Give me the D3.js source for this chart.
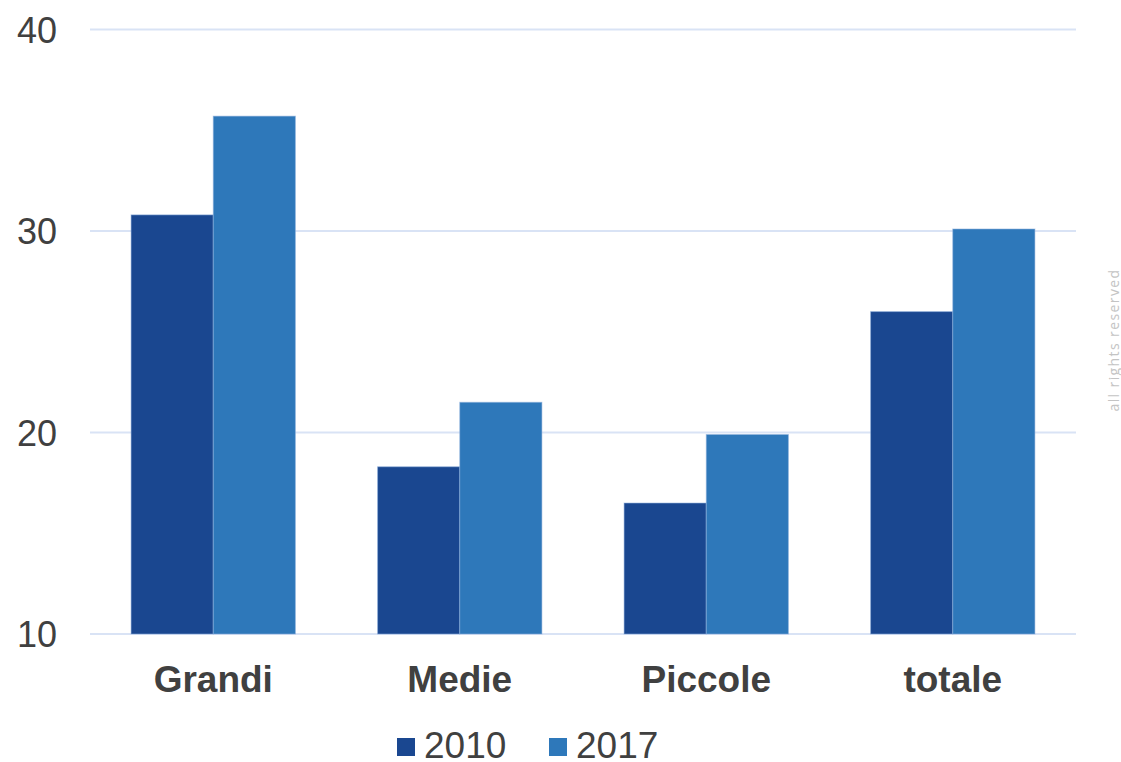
<!DOCTYPE html>
<html>
<head>
<meta charset="utf-8">
<script src="https://cdn.jsdelivr.net/npm/d3@7"></script>
<style>
  html, body { margin: 0; padding: 0; background: #fff; }
  svg { display: block; }
</style>
</head>
<body>
<svg id="chart" width="1121" height="762"></svg>
<script>
// Categories, series and values
const categories = ["Grandi", "Medie", "Piccole", "totale"];
const seriesNames = ["2010", "2017"];
const values2010 = [30.8, 18.3, 16.5, 26.0];
const values2017 = [35.7, 21.5, 19.9, 30.1];
const yTicks = [10, 20, 30, 40];
const seriesColors = ["#1a4790", "#2e78ba"];

const seriesValues = [values2010, values2017];
const rows = categories.map((c, i) => ({
  category: c,
  bars: seriesNames.map((s, j) => ({ series: s, value: seriesValues[j][i], color: seriesColors[j] }))
}));

const svg = d3.select("#chart");
const font = "'Liberation Sans', Arial, Helvetica, sans-serif";

const plot = { left: 90, right: 1076, top: 29.5, bottom: 634 };

const y = d3.scaleLinear().domain([10, 40]).range([plot.bottom, plot.top]);
const x0 = d3.scaleBand().domain(categories).range([plot.left, plot.right]).padding(0);
const x1 = d3.scaleBand().domain(seriesNames).range([0, x0.bandwidth()])
  .paddingInner(0).paddingOuter(0.5);

// Horizontal gridlines
svg.append("g")
  .selectAll("line")
  .data(yTicks)
  .join("line")
  .attr("x1", plot.left)
  .attr("x2", plot.right)
  .attr("y1", d => y(d))
  .attr("y2", d => y(d))
  .attr("stroke", "#d9e3f5")
  .attr("stroke-width", 2);

// Y axis labels
const yAxis = d3.axisLeft(y).tickValues(yTicks).tickSize(0).tickPadding(0);
const gy = svg.append("g")
  .attr("transform", `translate(57,0)`)
  .call(yAxis);
gy.select(".domain").remove();
gy.selectAll("text")
  .attr("font-family", font)
  .attr("font-size", 36)
  .attr("fill", "#404040")
  .attr("dy", "0.36em");

// Bars
const groups = svg.append("g")
  .selectAll("g")
  .data(rows)
  .join("g")
  .attr("transform", d => `translate(${x0(d.category)},0)`);

groups.selectAll("rect")
  .data(d => d.bars)
  .join("rect")
  .attr("x", d => x1(d.series))
  .attr("width", x1.bandwidth())
  .attr("y", d => y(d.value))
  .attr("height", d => y(10) - y(d.value))
  .attr("fill", d => d.color)
  .attr("stroke", "#8fb0dc")
  .attr("stroke-opacity", 0.55)
  .attr("stroke-width", 1);

// Category labels
const xAxis = d3.axisBottom(x0).tickSize(0).tickPadding(0);
const gx = svg.append("g")
  .attr("transform", `translate(0,692)`)
  .call(xAxis);
gx.select(".domain").remove();
gx.selectAll("text")
  .attr("font-family", font)
  .attr("font-size", 37)
  .attr("font-weight", "bold")
  .attr("fill", "#404040")
  .attr("dy", 0);

// Legend
const legendPos = [397, 549];
const legend = svg.append("g")
  .selectAll("g")
  .data(seriesNames)
  .join("g")
  .attr("transform", (d, i) => `translate(${legendPos[i]},0)`);
legend.append("rect")
  .attr("x", 0).attr("y", 738)
  .attr("width", 18).attr("height", 18)
  .attr("fill", (d, i) => seriesColors[i]);
legend.append("text")
  .attr("x", 27).attr("y", 758)
  .attr("font-family", font)
  .attr("font-size", 37)
  .attr("fill", "#404040")
  .text(d => d);

// Side note
svg.append("text")
  .attr("transform", "translate(1119,340) rotate(-90)")
  .attr("text-anchor", "middle")
  .attr("font-family", "'Open Sans', 'DejaVu Sans', sans-serif")
  .attr("font-size", 14)
  .attr("letter-spacing", 1.4)
  .attr("fill", "#c4c4c4")
  .text("all rights reserved");
</script>
</body>
</html>
